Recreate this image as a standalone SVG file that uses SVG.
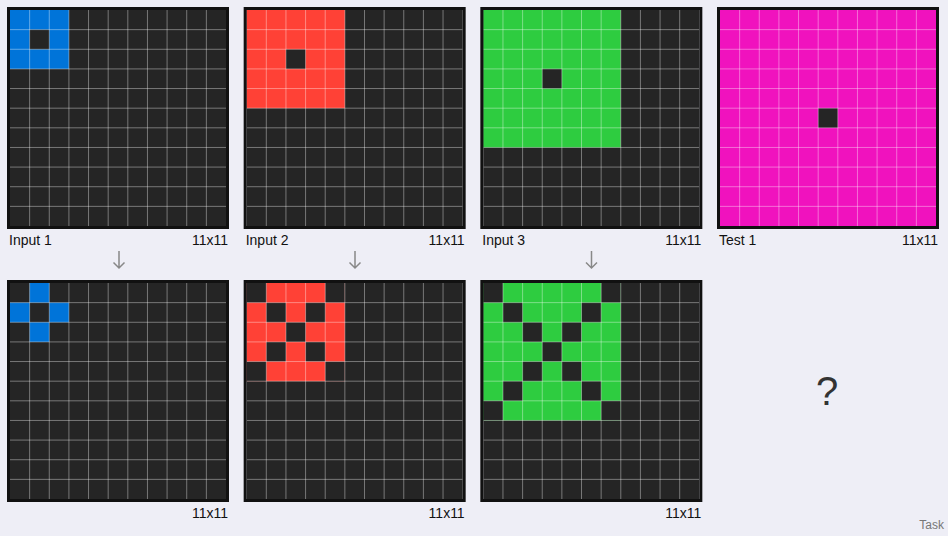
<svg xmlns="http://www.w3.org/2000/svg" xmlns:xlink="http://www.w3.org/1999/xlink" width="948" height="536" viewBox="0 0 948 536">
<style>
.bg{fill:#252525}
.frame{fill:none;stroke:#111;stroke-width:3}
.gl{fill:none;stroke:#fff;stroke-opacity:0.38;stroke-width:1}
.k{fill:#252525}
.b{fill:#0074D9}
.r{fill:#FF4136}
.g{fill:#2ECC40}
.m{fill:#F012BE}
.lbl{font-family:"Liberation Sans",Arial,sans-serif;font-size:14px;fill:#111}
.rt{text-anchor:end}
.arr{fill:none;stroke:#888;stroke-width:1.5}
</style>
<defs>
<path id="lines" class="gl" d="M19.636 0V216M39.273 0V216M58.909 0V216M78.545 0V216M98.182 0V216M117.818 0V216M137.455 0V216M157.091 0V216M176.727 0V216M196.364 0V216M0 19.636H216M0 39.273H216M0 58.909H216M0 78.545H216M0 98.182H216M0 117.818H216M0 137.455H216M0 157.091H216M0 176.727H216M0 196.364H216"/>
<rect id="cell" width="19.636" height="19.636"/>
</defs>
<rect width="948" height="536" fill="#eeeef6"/>

<g id="input1" transform="translate(10,10)">
<rect class="bg" width="216" height="216"/>
<rect class="b" width="58.909" height="58.909"/>
<use href="#cell" class="k" x="19.636" y="19.636"/>
<use href="#lines"/>
<rect class="frame" x="-1.5" y="-1.5" width="219" height="219"/>
<text class="lbl" x="-1" y="235">Input 1</text>
<text class="lbl rt" x="218" y="235">11x11</text>
</g>

<g id="output1" transform="translate(10,283)">
<rect class="bg" width="216" height="216"/>
<use href="#cell" class="b" x="19.636" y="0"/>
<use href="#cell" class="b" x="0" y="19.636"/>
<use href="#cell" class="b" x="39.273" y="19.636"/>
<use href="#cell" class="b" x="19.636" y="39.273"/>
<use href="#lines"/>
<rect class="frame" x="-1.5" y="-1.5" width="219" height="219"/>
<text class="lbl rt" x="218" y="235">11x11</text>
</g>

<g id="input2" transform="translate(246.67,10)">
<rect class="bg" width="216" height="216"/>
<rect class="r" width="98.182" height="98.182"/>
<use href="#cell" class="k" x="39.273" y="39.273"/>
<use href="#lines"/>
<rect class="frame" x="-1.5" y="-1.5" width="219" height="219"/>
<text class="lbl" x="-1" y="235">Input 2</text>
<text class="lbl rt" x="218" y="235">11x11</text>
</g>

<g id="output2" transform="translate(246.67,283)">
<rect class="bg" width="216" height="216"/>
<rect class="r" width="98.182" height="98.182"/>
<use href="#cell" class="k" x="0" y="0"/>
<use href="#cell" class="k" x="78.545" y="0"/>
<use href="#cell" class="k" x="19.636" y="19.636"/>
<use href="#cell" class="k" x="58.909" y="19.636"/>
<use href="#cell" class="k" x="39.273" y="39.273"/>
<use href="#cell" class="k" x="19.636" y="58.909"/>
<use href="#cell" class="k" x="58.909" y="58.909"/>
<use href="#cell" class="k" x="0" y="78.545"/>
<use href="#cell" class="k" x="78.545" y="78.545"/>
<use href="#lines"/>
<rect class="frame" x="-1.5" y="-1.5" width="219" height="219"/>
<text class="lbl rt" x="218" y="235">11x11</text>
</g>

<g id="input3" transform="translate(483.33,10)">
<rect class="bg" width="216" height="216"/>
<rect class="g" width="137.455" height="137.455"/>
<use href="#cell" class="k" x="58.909" y="58.909"/>
<use href="#lines"/>
<rect class="frame" x="-1.5" y="-1.5" width="219" height="219"/>
<text class="lbl" x="-1" y="235">Input 3</text>
<text class="lbl rt" x="218" y="235">11x11</text>
</g>

<g id="output3" transform="translate(483.33,283)">
<rect class="bg" width="216" height="216"/>
<rect class="g" width="137.455" height="137.455"/>
<use href="#cell" class="k" x="0" y="0"/>
<use href="#cell" class="k" x="117.818" y="0"/>
<use href="#cell" class="k" x="19.636" y="19.636"/>
<use href="#cell" class="k" x="98.182" y="19.636"/>
<use href="#cell" class="k" x="39.273" y="39.273"/>
<use href="#cell" class="k" x="78.545" y="39.273"/>
<use href="#cell" class="k" x="58.909" y="58.909"/>
<use href="#cell" class="k" x="39.273" y="78.545"/>
<use href="#cell" class="k" x="78.545" y="78.545"/>
<use href="#cell" class="k" x="19.636" y="98.182"/>
<use href="#cell" class="k" x="98.182" y="98.182"/>
<use href="#cell" class="k" x="0" y="117.818"/>
<use href="#cell" class="k" x="117.818" y="117.818"/>
<use href="#lines"/>
<rect class="frame" x="-1.5" y="-1.5" width="219" height="219"/>
<text class="lbl rt" x="218" y="235">11x11</text>
</g>

<g id="test1" transform="translate(720,10)">
<rect class="m" width="216" height="216"/>
<use href="#cell" class="k" x="98.182" y="98.182"/>
<use href="#lines"/>
<rect class="frame" x="-1.5" y="-1.5" width="219" height="219"/>
<text class="lbl" x="-1" y="235">Test 1</text>
<text class="lbl rt" x="218" y="235">11x11</text>
</g>

<g id="unknown">
<text x="827" y="405" text-anchor="middle" font-family="Liberation Sans,Arial,sans-serif" font-size="40" fill="#333">?</text>
</g>

<g id="connectors">
<path class="arr" d="M119 251V268M113.5 262.5L119 268L124.5 262.5"/>
<path class="arr" d="M355 251V268M349.5 262.5L355 268L360.5 262.5"/>
<path class="arr" d="M591.5 251V268M586 262.5L591.5 268L597 262.5"/>
</g>

<text x="944" y="529" text-anchor="end" font-family="Liberation Sans,Arial,sans-serif" font-size="12" fill="#777">Task</text>
</svg>
